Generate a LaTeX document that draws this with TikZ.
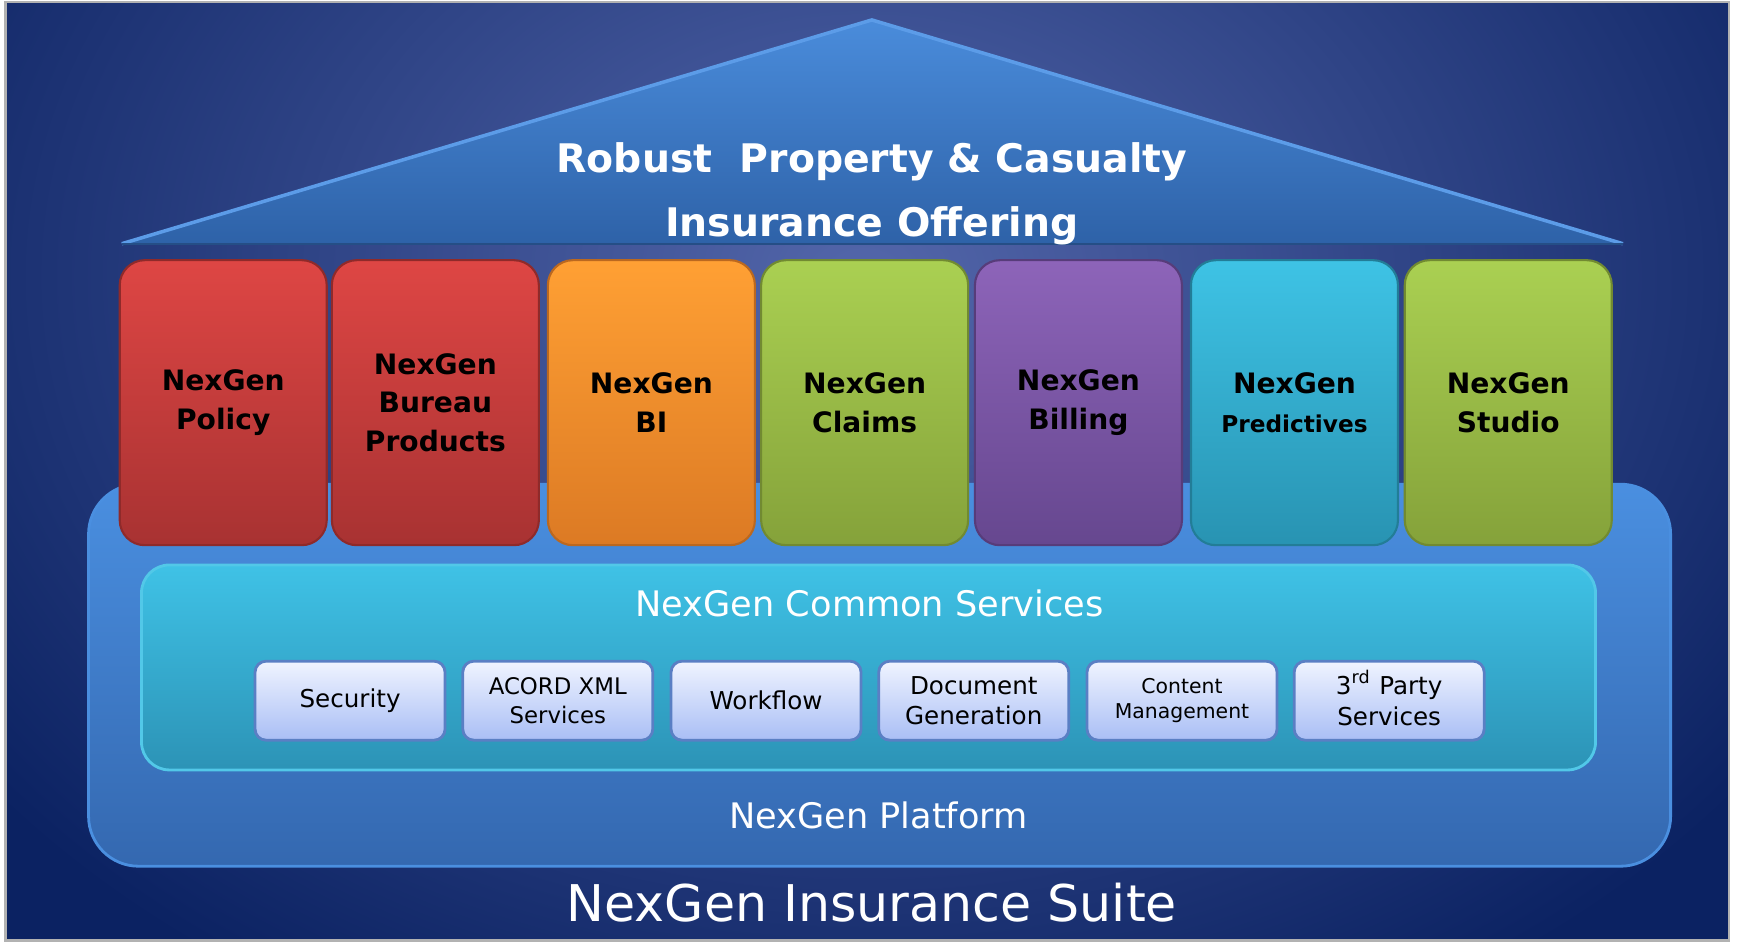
\documentclass[tikz,border=0pt]{standalone}
\usepackage{fontspec}
\setmainfont{DejaVu Sans}
\usetikzlibrary{positioning}

\definecolor{bgdark}{HTML}{0B2262}
\definecolor{bglight}{HTML}{5366AA}
\definecolor{rooftop}{HTML}{4A8CDB}
\definecolor{roofbot}{HTML}{2E62A8}
\definecolor{roofedge}{HTML}{5C9CE8}
\definecolor{plattop}{HTML}{4A8FE0}
\definecolor{platbot}{HTML}{3468B0}
\definecolor{commtop}{HTML}{3FC2E6}
\definecolor{commbot}{HTML}{2C93B6}
\definecolor{redtop}{HTML}{DE4644}
\definecolor{redbot}{HTML}{A83232}
\definecolor{orangetop}{HTML}{FFA034}
\definecolor{orangebot}{HTML}{DC7A24}
\definecolor{greentop}{HTML}{AAD052}
\definecolor{greenbot}{HTML}{85A23A}
\definecolor{purpletop}{HTML}{8D64B9}
\definecolor{purplebot}{HTML}{66478F}
\definecolor{cyantop}{HTML}{3EC3E5}
\definecolor{cyanbot}{HTML}{2893B2}
\definecolor{svctop}{HTML}{F0F4FF}
\definecolor{svcbot}{HTML}{A9BEF5}
\definecolor{svcedge}{HTML}{5A7FC4}

\begin{document}
\begin{tikzpicture}[x=0.01108cm, y=-0.01108cm,
		colbox/.style n args={2}{top color=#1, bottom color=#2, draw=#2!85!black, line width=0.6pt, rounded corners=0.25cm, minimum width=2.07cm, minimum height=2.85cm, align=center, font=\bfseries\fontsize{8}{11}\selectfont},
		svcbox/.style={top color=svctop, bottom color=svcbot, draw=svcedge, line width=0.8pt, rounded corners=0.11cm, minimum width=1.9cm, minimum height=0.79cm, align=center, font=\fontsize{7}{8.8}\selectfont},
		whitelabel/.style={text=white, font=\fontsize{10}{12}\selectfont}
	]
	\useasboundingbox (0,0) rectangle (1568,856);
	\fill[white] (0,0) rectangle (1568,856);

	\fill[bgdark] (5,2) rectangle (1561,849);
	\begin{scope}
		\clip (5,2) rectangle (1561,849);
		\shade[inner color=bglight, outer color=bgdark] (780,250) ellipse (1000 and 760);
	\end{scope}
	\draw[black!30, line width=0.6pt] (5,2) rectangle (1561,849);

	\coordinate (apex) at (787,18);
	\coordinate (roofleft) at (110,220);
	\coordinate (roofright) at (1465,220);
	\shade[top color=rooftop, bottom color=roofbot] (roofleft) -- (apex) -- (roofright) -- cycle;
	\draw[roofedge, line width=1pt] (roofleft) -- (apex) -- (roofright);
	\draw[roofbot!80!black, line width=0.6pt] (roofleft) -- (roofright);
	\node[text=white, align=center, font=\bfseries\fontsize{11.2}{18.3}\selectfont] (title) at (787,175) {Robust\ \ Property \& Casualty\\Insurance Offering};

	\node[top color=plattop, bottom color=platbot, draw=plattop, line width=0.8pt, rounded corners=0.5cm, minimum width=15.82cm, minimum height=3.82cm] (platform) at (794,609.5) {};
	\node[whitelabel] (platlabel) at (793,736) {NexGen Platform};

	\node[top color=commtop, bottom color=commbot, draw=commtop!90!white, line width=0.8pt, rounded corners=0.28cm, minimum width=14.54cm, minimum height=2.05cm] (common) at (784,602.5) {};
	\node[whitelabel] (commlabel) at (785,545) {NexGen Common Services};

	\node[svcbox] (security) at (316,632.5) {Security};
	\node[svcbox, font=\fontsize{6.5}{8.2}\selectfont] (acord) at (503.5,632.5) {ACORD XML\\Services};
	\node[svcbox] (workflow) at (691.5,632.5) {Workflow};
	\node[svcbox] (docgen) at (879,632.5) {Document\\Generation};
	\node[svcbox, font=\fontsize{5.8}{7.3}\selectfont] (content) at (1067,632.5) {Content\\Management};
	\node[svcbox] (thirdparty) at (1254,632.5) {3\smash{\textsuperscript{rd}} Party\\Services};

	\node[colbox={redtop}{redbot}] (policy) at (201.5,363.5) {NexGen\\Policy};
	\node[colbox={redtop}{redbot}] (bureau) at (393,363.5) {NexGen\\Bureau\\Products};
	\node[colbox={orangetop}{orangebot}] (bi) at (588,363.5) {NexGen\\BI};
	\node[colbox={greentop}{greenbot}] (claims) at (780.5,363.5) {NexGen\\Claims};
	\node[colbox={purpletop}{purplebot}] (billing) at (973.5,363.5) {NexGen\\Billing};
	\node[colbox={cyantop}{cyanbot}] (predictives) at (1168.5,363.5) {NexGen\\{\fontsize{6.6}{11}\selectfont Predictives}};
	\node[colbox={greentop}{greenbot}] (studio) at (1361.5,363.5) {NexGen\\Studio};

	\node[text=white, font=\fontsize{14.4}{17}\selectfont] (suite) at (787,815) {NexGen Insurance Suite};
\end{tikzpicture}
\end{document}
